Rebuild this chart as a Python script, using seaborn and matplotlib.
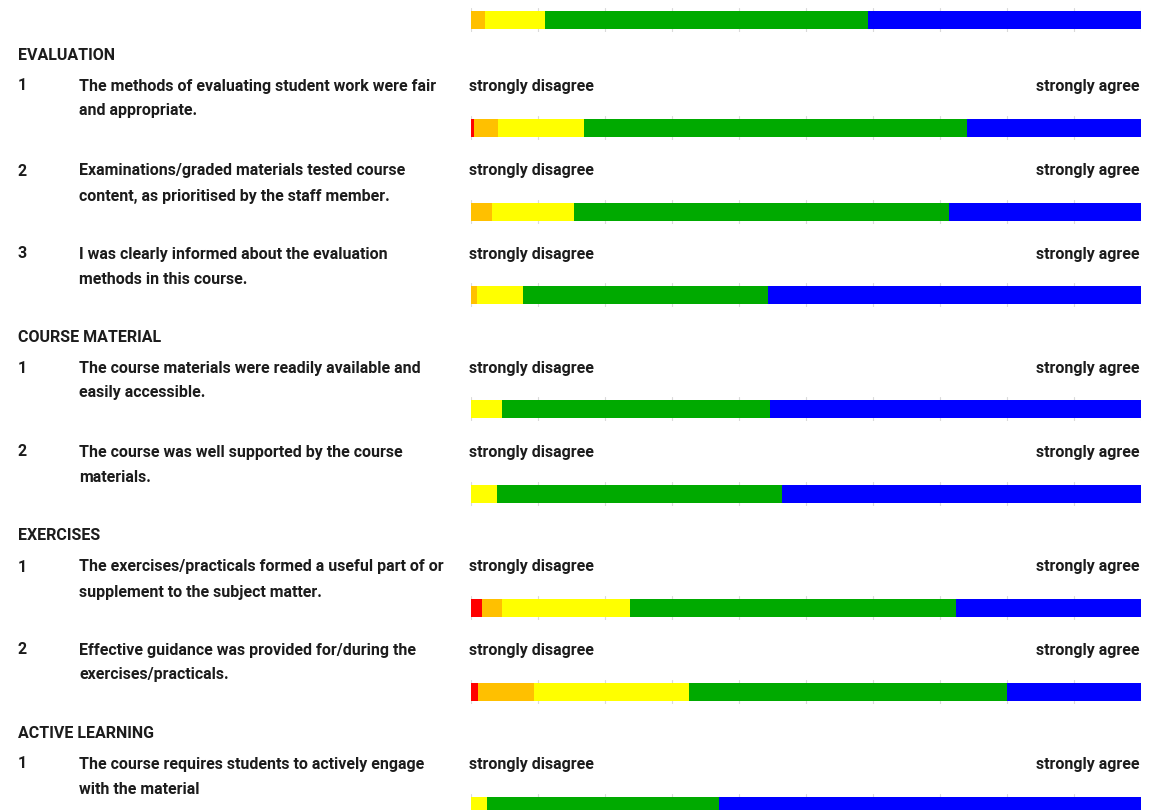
import numpy as np
import pandas as pd
import matplotlib
matplotlib.use("Agg")
import matplotlib.pyplot as plt
import seaborn as sns
from matplotlib import font_manager

# ---------------- data ----------------
levels = ["strongly disagree", "disagree", "neutral", "agree", "strongly agree"]
level_colors = ["#ff0000", "#ffc000", "#ffff00", "#00aa00", "#0000ff"]

# percentage share of answers per bar (top bar belongs to previous item)
red    = [0.0, 0.5, 0.0, 0.0, 0.0, 0.0, 1.6, 1.0, 0.0]
orange = [2.1, 3.6, 3.1, 0.9, 0.0, 0.0, 3.1, 8.4, 0.0]
yellow = [9.0, 12.8, 12.2, 6.9, 4.6, 3.9, 19.0, 23.1, 2.4]
green  = [48.2, 57.2, 56.1, 36.6, 40.1, 42.5, 48.7, 47.5, 34.6]
blue   = [40.7, 25.9, 28.6, 55.6, 55.3, 53.6, 27.6, 20.0, 63.0]

sections = ["EVALUATION", "COURSE MATERIAL", "EXERCISES", "ACTIVE LEARNING"]
q_numbers = ["1", "2", "3", "1", "2", "1", "2", "1"]
q_texts = [
    ["The methods of evaluating student work were fair", "and appropriate."],
    ["Examinations/graded materials tested course", "content, as prioritised by the staff member."],
    ["I was clearly informed about the evaluation", "methods in this course."],
    ["The course materials were readily available and", "easily accessible."],
    ["The course was well supported by the course", "materials."],
    ["The exercises/practicals formed a useful part of or", "supplement to the subject matter."],
    ["Effective guidance was provided for/during the", "exercises/practicals."],
    ["The course requires students to actively engage", "with the material"],
]
scale_left = "strongly disagree"
scale_right = "strongly agree"

# ---------------- layout (pixels) ----------------
W, H = 1149, 810
bar_tops = [11, 119, 203, 286, 400, 485, 599, 683, 797]
header_y = [54, 337, 535, 732]          # visual centre of capitals
question_y = [85, 170, 253, 367, 451, 566, 649, 763]
line_gap = 25
base_off = 5.5                          # centre of capitals -> baseline
bar_x0, bar_w, bar_h, pad = 471, 670, 18, 3

sns.set_theme(style="white")
available = {f.name for f in font_manager.fontManager.ttflist}
chosen = "DejaVu Sans"
for fam in ["Roboto", "Open Sans", "Liberation Sans"]:
    if fam in available:
        chosen = fam
        break
plt.rcParams["font.family"] = [chosen, "DejaVu Sans"]

fig = plt.figure(figsize=(W / 100, H / 100), dpi=100)
fig.patch.set_facecolor("white")

txt_color = "#1c1c1c"
fs = 11.5
weight = "bold"

def fx(px):
    return px / W

def fy(py):
    return 1 - py / H

def label(x, y, s, ha="left"):
    fig.text(fx(x), fy(y + base_off), s, fontsize=fs, fontweight=weight,
             color=txt_color, va="baseline", ha=ha)

# bars
values = np.array([red, orange, yellow, green, blue])  # shape (5, n)
cums = np.cumsum(values, axis=0)
palette = dict(zip(levels, level_colors))
for i, top in enumerate(bar_tops):
    ax = fig.add_axes([fx(bar_x0), fy(top + bar_h + pad), bar_w / W, (bar_h + 2 * pad) / H])
    df = pd.DataFrame({"row": ["r"] * len(levels), "level": levels, "cum": cums[:, i]})
    sns.barplot(data=df, x="cum", y="row", hue="level", hue_order=levels[::-1],
                palette=palette, dodge=False, width=bar_h / (bar_h + 2 * pad),
                saturation=1, legend=False, ax=ax, orient="h", linewidth=0)
    ax.set_xlim(0, 100)
    ax.set_ylim(0.5, -0.5)
    ax.set_xticks(np.arange(0, 101, 10))
    ax.xaxis.grid(True, color="#dadada", lw=0.8)
    ax.yaxis.grid(False)
    ax.set_axisbelow(True)
    ax.tick_params(length=0, labelbottom=False, labelleft=False)
    ax.set_xlabel("")
    ax.set_ylabel("")
    for s in ax.spines.values():
        s.set_visible(False)
    ax.patch.set_alpha(0)

# section headers
for name, y in zip(sections, header_y):
    label(18, y, name)

# questions
for num, lines, y in zip(q_numbers, q_texts, question_y):
    label(18, y, num)
    for k, line in enumerate(lines):
        label(79, y + k * line_gap, line)
    label(469, y, scale_left)
    label(1140, y, scale_right, ha="right")

fig.savefig("out.png", dpi=100, facecolor="white")
